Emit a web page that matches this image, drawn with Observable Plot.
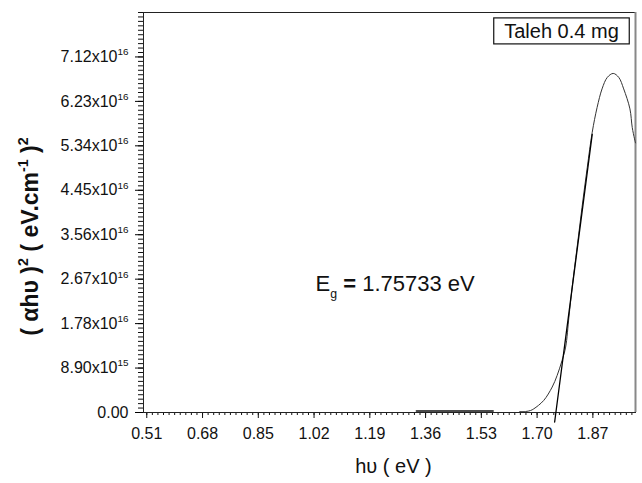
<!DOCTYPE html>
<html><head><meta charset="utf-8">
<script src="https://cdn.jsdelivr.net/npm/d3@7"></script>
<script src="https://cdn.jsdelivr.net/npm/@observablehq/plot@0.6"></script>
<style>html,body{margin:0;padding:0;background:#fff;} #chart{width:642px;height:483px;}</style>
</head><body><div id="chart"></div>
<script>
const xDomain = [0.5, 2.0];
const yDomain = [0, 8.01e16];
const xTicks = [0.51, 0.68, 0.85, 1.02, 1.19, 1.36, 1.53, 1.70, 1.87];
const xTickLabels = ["0.51", "0.68", "0.85", "1.02", "1.19", "1.36", "1.53", "1.70", "1.87"];
const yTicks = [0, 8.9e15, 1.78e16, 2.67e16, 3.56e16, 4.45e16, 5.34e16, 6.23e16, 7.12e16];
const yTickLabels = ["0.00", "8.90x10^{15}", "1.78x10^{16}", "2.67x10^{16}", "3.56x10^{16}",
  "4.45x10^{16}", "5.34x10^{16}", "6.23x10^{16}", "7.12x10^{16}"];

// low-energy part sitting on the baseline
const lowX = [1.332, 1.566];
const lowY = [3e14, 3e14];
// (alpha h nu)^2 curve
const curveX = [1.647, 1.665, 1.680, 1.690, 1.720, 1.746, 1.761, 1.776, 1.787, 1.797, 1.807, 1.822, 1.837, 1.853, 1.868, 1.883, 1.898, 1.914, 1.932, 1.949, 1.964, 1.983, 1.990, 1.997, 2.0];
const curveY = [2e14, 2e14, 4e14, 7.4e14, 2.4e15, 5.1e15, 7.4e15, 1.04e16, 1.31e16, 1.91e16, 2.51e16, 3.31e16, 4.11e16, 4.91e16, 5.61e16, 6.11e16, 6.48e16, 6.71e16, 6.79e16, 6.71e16, 6.48e16, 6.08e16, 5.71e16, 5.48e16, 5.40e16];
// linear fit (tangent) giving Eg
const fitX = [1.7535, 1.868];
const fitY = [-1.9e15, 5.567e16];

const xTitle = "hυ ( eV )";
const yTitle = "( αhυ )^{2} ( eV.cm^{-1} )^{2}";
const legendText = "Taleh 0.4 mg";
const gapText = "E_{g} !{=} 1.75733 eV";

const xMinor = d3.range(0, 90).map(i => 0.51 + i * 0.017).filter(v => v <= xDomain[1] + 1e-9);
const yMinor = d3.range(0, 91).map(i => i * 8.9e14);

const lowData = lowX.map((x, i) => ({x, y: lowY[i]}));
const curveData = curveX.map((x, i) => ({x, y: curveY[i]}));
const fitData = fitX.map((x, i) => ({x, y: fitY[i]}));

const W = 642, H = 483, ML = 143, MR = 7, MT = 12, MB = 71;
const font = "'Liberation Sans', Arial, Helvetica, sans-serif";
const chart = Plot.plot({
  width: W, height: H,
  marginLeft: ML, marginRight: MR, marginTop: MT, marginBottom: MB,
  style: {fontFamily: font, background: "#fff", color: "#111", overflow: "visible"},
  x: {domain: xDomain},
  y: {domain: yDomain},
  marks: [
    Plot.axisX(xMinor, {tickSize: 3, tickFormat: () => "", label: null, stroke: "#111"}),
    Plot.axisX(xTicks, {tickSize: 6, tickPadding: 9, fontSize: 16, tickFormat: d => xTickLabels[xTicks.indexOf(d)], label: null, stroke: "#111"}),
    Plot.axisY(yMinor, {tickSize: 5, tickFormat: () => "", label: null, stroke: "#111"}),
    Plot.axisY(yTicks, {tickSize: 8, tickPadding: 7, fontSize: 16, tickFormat: d => yTickLabels[yTicks.indexOf(d)], label: null, stroke: "#000"}),
    Plot.frame({stroke: "#222"}),
    Plot.ruleX([xDomain[1]], {stroke: "#888", strokeWidth: 2}),
    Plot.line(lowData, {x: "x", y: "y", stroke: "#111", strokeWidth: 1.6}),
    Plot.line(curveData, {x: "x", y: "y", curve: "catmull-rom", stroke: "#333", strokeWidth: 1}),
    Plot.line(fitData, {x: "x", y: "y", stroke: "#000", strokeWidth: 1.3}),
    Plot.text([xTitle], {text: d => d, frameAnchor: "bottom", dx: 4, dy: 54, fontSize: 20, textAnchor: "middle", lineAnchor: "middle", fill: "#111"}),
    Plot.text([yTitle], {text: d => d, frameAnchor: "left", dx: -113, dy: 24, rotate: -90, fontSize: 23, fontWeight: "bold", textAnchor: "middle", lineAnchor: "middle", fill: "#111"}),
    Plot.text([legendText], {text: d => d, frameAnchor: "top-right", dx: -74, dy: 19, fontSize: 20, textAnchor: "middle", lineAnchor: "middle", fill: "#111"}),
    Plot.text([gapText], {text: d => d, frameAnchor: "top-left", dx: 172, dy: 271, textAnchor: "start", fontSize: 22, lineAnchor: "middle", fill: "#111"})
  ]
});
document.getElementById("chart").appendChild(chart);

const NS = "http://www.w3.org/2000/svg";
function richText(el) {
  const s = el.textContent;
  if (!/[\^_!]\{/.test(s)) return;
  const fs = parseFloat(getComputedStyle(el).fontSize) || 16;
  while (el.firstChild) el.removeChild(el.firstChild);
  const re = /([\^_!])\{([^}]*)\}/g;
  let last = 0, m, offset = 0;
  const add = (txt, kind) => {
    const t = document.createElementNS(NS, "tspan");
    t.textContent = txt;
    let target = 0;
    if (kind === "^") { target = -0.42 * fs; t.setAttribute("font-size", 0.62 * fs); }
    else if (kind === "_") { target = 0.33 * fs; t.setAttribute("font-size", 0.56 * fs); }
    else if (kind === "!") { t.setAttribute("font-weight", "bold"); }
    const dy = target - offset;
    if (Math.abs(dy) > 1e-6) t.setAttribute("dy", dy);
    offset = target;
    el.appendChild(t);
  };
  while ((m = re.exec(s))) {
    if (m.index > last) add(s.slice(last, m.index), "");
    add(m[2], m[1]);
    last = re.lastIndex;
  }
  if (last < s.length) add(s.slice(last), "");
}
chart.querySelectorAll("text").forEach(richText);

// box around the legend text
chart.querySelectorAll("text").forEach(el => {
  if (el.textContent !== legendText) return;
  const bb = el.getBBox();
  const w = bb.width + 21, h = 26;
  const r = document.createElementNS(NS, "rect");
  r.setAttribute("x", bb.x + bb.width / 2 - w / 2);
  r.setAttribute("y", bb.y + bb.height / 2 - h / 2);
  r.setAttribute("width", w);
  r.setAttribute("height", h);
  r.setAttribute("fill", "none");
  r.setAttribute("stroke", "#111");
  r.setAttribute("stroke-width", 1.2);
  if (el.getAttribute("transform")) r.setAttribute("transform", el.getAttribute("transform"));
  el.parentNode.insertBefore(r, el);
});
</script>
</body></html>
